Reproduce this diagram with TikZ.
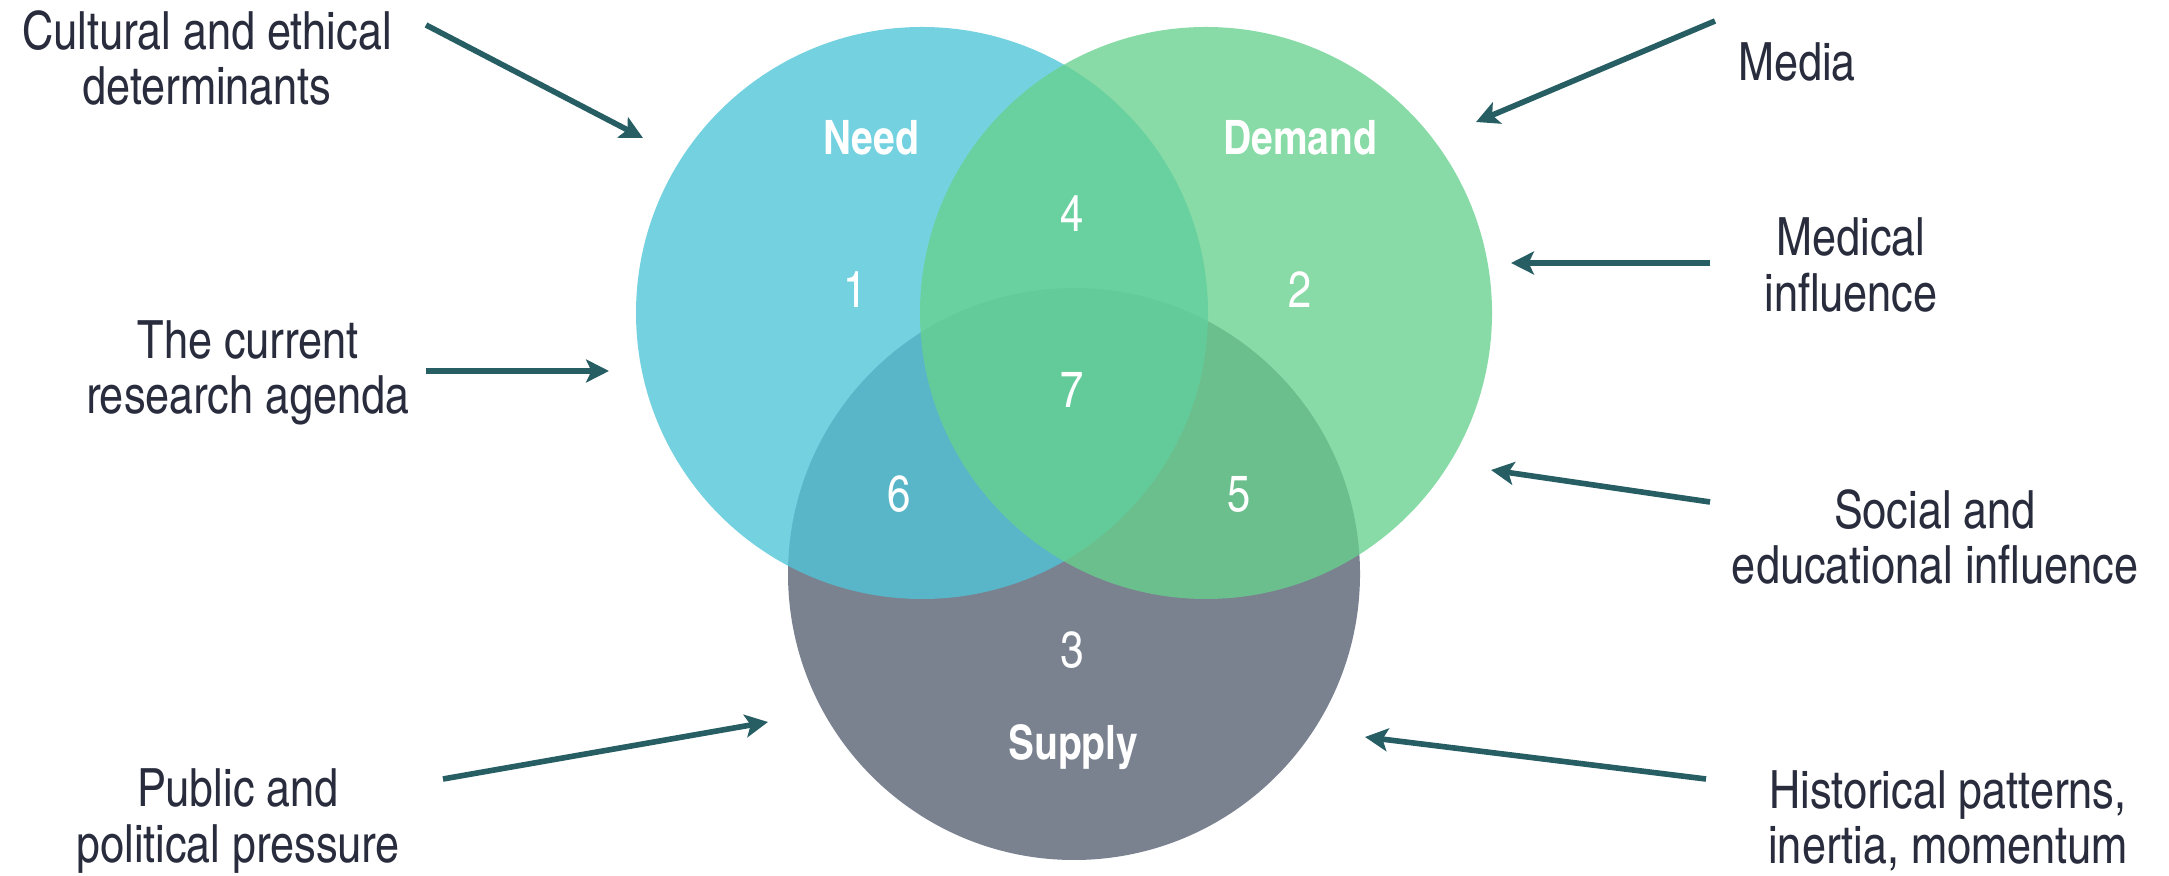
\documentclass[tikz,border=0pt]{standalone}
\usepackage{fontspec}
\setmainfont{TeX Gyre Heros}
\newfontfamily\cnfont{texgyreheroscn}[Extension=.otf, UprightFont=*-regular, BoldFont=*-bold]
\usetikzlibrary{arrows.meta}

\definecolor{needc}{RGB}{79,197,216}
\definecolor{demc}{RGB}{103,209,141}
\definecolor{supc}{RGB}{122,130,144}
\definecolor{txtc}{RGB}{40,44,60}
\definecolor{arrc}{RGB}{38,94,100}

\tikzset{
  lbl/.style={text=txtc, align=center, inner sep=0pt, font=\cnfont\fontsize{15}{15.8}\selectfont},
  ttl/.style={text=white, inner sep=0pt, font=\cnfont\bfseries\fontsize{13.5}{15}\selectfont},
  num/.style={text=white, inner sep=0pt, font=\cnfont\fontsize{14.5}{16}\selectfont},
  arr/.style={draw=arrc, line width=1.6pt, -{Stealth[length=6.5pt,width=6.5pt,inset=1.5pt]}}
}

\begin{document}
\begin{tikzpicture}

\useasboundingbox (0,0) rectangle (21.69,8.75);

% the three sets
\coordinate (need) at (9.22,5.62);
\coordinate (demand) at (12.06,5.62);
\coordinate (supply) at (10.74,3.01);

\fill [supc] (supply) circle (2.86);
\fill [needc,fill opacity=.79] (need) circle (2.86);
\fill [demc,fill opacity=.78] (demand) circle (2.86);

\node [ttl] (needtxt) at (8.71,7.37) {Need};
\node [ttl] (demtxt) at (13.00,7.37) {Demand};
\node [ttl] (suptxt) at (10.73,1.28) {Supply};

\node [num] (n1) at (8.55,5.85) {1};
\node [num] (n2) at (13.00,5.85) {2};
\node [num] (n3) at (10.72,2.25) {3};
\node [num] (n4) at (10.72,6.61) {4};
\node [num] (n5) at (12.39,3.81) {5};
\node [num] (n6) at (8.99,3.81) {6};
\node [num] (n7) at (10.72,4.85) {7};

% influences, left
\node [lbl] (cult) at (2.07,8.17) {Cultural and ethical\\determinants};
\node [lbl] (res) at (2.48,5.02) {The current\\research agenda};
\node [lbl] (pub) at (2.38,0.54) {Public and\\political pressure};

% influences, right
\node [lbl] (media) at (17.97,8.13) {Media};
\node [lbl] (med) at (18.51,6.10) {Medical\\influence};
\node [lbl] (soc) at (19.35,3.38) {Social and\\educational influence};
\node [lbl] (hist) at (19.48,0.54) {Historical patterns,\\inertia, momentum};

\coordinate (cult-s) at (4.26,8.50); \coordinate (cult-e) at (6.43,7.37);
\coordinate (res-s) at (4.26,5.04); \coordinate (res-e) at (6.09,5.04);
\coordinate (pub-s) at (4.43,0.96); \coordinate (pub-e) at (7.68,1.53);
\coordinate (media-s) at (17.15,8.54); \coordinate (media-e) at (14.76,7.53);
\coordinate (med-s) at (17.10,6.12); \coordinate (med-e) at (15.11,6.12);
\coordinate (soc-s) at (17.10,3.73); \coordinate (soc-e) at (14.91,4.05);
\coordinate (hist-s) at (17.06,0.96); \coordinate (hist-e) at (13.65,1.38);

\draw [arr] (cult-s) -- (cult-e);
\draw [arr] (res-s) -- (res-e);
\draw [arr] (pub-s) -- (pub-e);
\draw [arr] (media-s) -- (media-e);
\draw [arr] (med-s) -- (med-e);
\draw [arr] (soc-s) -- (soc-e);
\draw [arr] (hist-s) -- (hist-e);

\end{tikzpicture}
\end{document}
